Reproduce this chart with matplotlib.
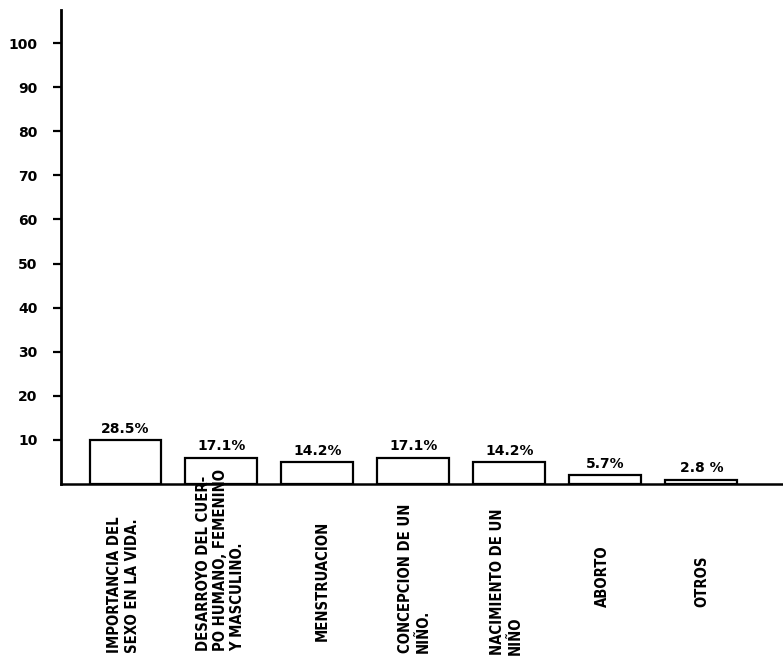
import matplotlib
matplotlib.use("Agg")
import matplotlib.pyplot as plt
import matplotlib.transforms as mtransforms

# Data
categories = [
    "IMPORTANCIA DEL\nSEXO EN LA VIDA.",
    "DESARROYO DEL CUER-\nPO HUMANO, FEMENINO\nY MASCULINO.",
    "MENSTRUACION",
    "CONCEPCION DE UN\nNIÑO.",
    "NACIMIENTO DE UN\nNIÑO",
    "ABORTO",
    "OTROS",
]
counts = [10, 6, 5, 6, 5, 2, 1]
pct_labels = ["28.5%", "17.1%", "14.2%", "17.1%", "14.2%", "5.7%", "2.8 %"]
ytick_values = [10, 20, 30, 40, 50, 60, 70, 80, 90, 100]

W, H = 783, 657
fig = plt.figure(figsize=(W / 100, H / 100), dpi=100)
fig.patch.set_facecolor("white")

left_px, base_px, top_px, right_px = 61, 484, 10, 783
ax = fig.add_axes([left_px / W, (H - base_px) / H,
                   (right_px - left_px) / W, (base_px - top_px) / H])
ax.set_facecolor("white")

font = ["DejaVu Sans"]

x = list(range(len(categories)))
ax.bar(x, counts, width=0.75, facecolor="white", edgecolor="black",
       linewidth=1.6, zorder=2)

ax.set_xlim(-0.672, 6.85)
ax.set_ylim(0, 107.5)

for sp in ["top", "right"]:
    ax.spines[sp].set_visible(False)
ax.spines["left"].set_linewidth(2.0)
ax.spines["bottom"].set_linewidth(1.8)

ax.set_xticks([])
ax.set_yticks(ytick_values)
ax.set_yticklabels([str(v) for v in ytick_values], fontsize=10,
                   fontweight="bold", family=font)
ax.tick_params(axis="y", direction="out", length=6, width=1.6, pad=11)

# percentage labels above bars
for xi, c, lab in zip(x, counts, pct_labels):
    ax.annotate(lab, (xi, c), xytext=(0, 3), textcoords="offset points",
                ha="center", va="bottom", fontsize=10, fontweight="bold",
                family=font)

# category labels (rotated), per-label vertical placement
trans = mtransforms.blended_transform_factory(ax.transData, fig.transFigure)
label_y_px = [653, 651, 641, 653, 655, 607, 607]
label_dx = [-0.02, -0.01, 0.05, 0.01, -0.03, -0.03, 0.01]
for xi, lab, ypx, dx in zip(x, categories, label_y_px, label_dx):
    ax.text(xi + dx, (H - ypx) / H, lab, transform=trans, rotation=90,
            ha="center", va="bottom", fontsize=10.6, fontweight="bold",
            fontstretch="condensed", family=font, linespacing=1.2,
            multialignment="left", clip_on=False)

fig.savefig("out.png", dpi=100, facecolor="white")
